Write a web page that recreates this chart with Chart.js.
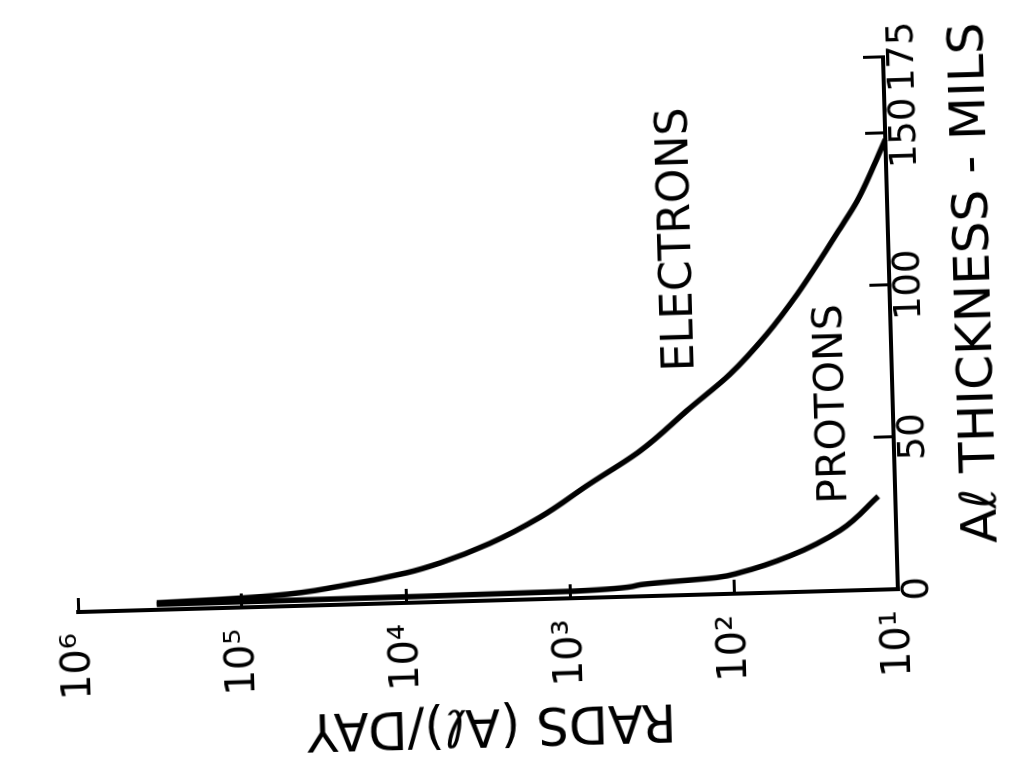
<!DOCTYPE html>
<html>
<head>
<meta charset="utf-8">
<script src="https://cdn.jsdelivr.net/npm/chart.js@4.4.1/dist/chart.umd.min.js"></script>
<style>
  html, body { margin: 0; padding: 0; background: #fff; overflow: hidden; width: 1012px; height: 768px; }
  /* the figure is printed turned on its side, so the whole chart is turned */
  #page { position: absolute; left: 122px; top: -122px; width: 768px; height: 1012px; transform: rotate(-91.6deg); }
</style>
</head>
<body>
<div id="page"><canvas id="chart_canvas" width="768" height="1012"></canvas></div>
<script>
const thicknessTicks = [0, 50, 100, 150, 175];
const radsTicks = [10, 100, 1000, 10000, 100000, 1000000];
const radsTickLabels = ["10¹", "10²", "10³", "10⁴", "10⁵", "10⁶"];

// Al thickness (mils) against dose (rads/day)
const electronMils = [2.3, 2.8, 3.6, 6.1, 9.9, 12.8, 18.8, 26.9, 37.5, 47.8, 61.5, 72.2, 85.0, 97.9, 119.2, 128.0, 148.0];
const electronRads = [331000, 145000, 64600, 25200, 9770, 6120, 3010, 1480, 723, 353, 172, 97, 57, 36.6, 19.5, 15.2, 10];

const protonMils = [1.8, 1.9, 2.0, 2.3, 3.8, 5.5, 6.9, 11.9, 19.9, 30.7];
const protonRads = [331000, 64700, 7450, 953, 372, 126, 91, 45, 21.9, 12.7];

const curveNames = ["ELECTRONS", "PROTONS"];
const curveNameMils = [117, 61.5];
const curveNameRads = [190, 23];
const curveNameSizes = [44, 41];

const thicknessTitle = "Aℓ THICKNESS - MILS";
const thicknessTitleMils = 100;

Chart.defaults.font.family = '"DejaVu Sans"';
Chart.defaults.color = "#000";

function toPoints(xs, ys)
{
  return xs.map((x, i) => ({x: x, y: ys[i]}));
}

// curve names and the thickness title, placed through the scales
const chartText = {
  id: "chartText",
  afterDatasetsDraw(chart)
  {
    const ctx = chart.ctx;
    const xs = chart.scales.x, ys = chart.scales.y;
    ctx.save();
    ctx.fillStyle = "#000";
    ctx.textAlign = "center";
    ctx.textBaseline = "middle";
    curveNames.forEach((name, i) => {
      ctx.font = curveNameSizes[i] + 'px "DejaVu Sans"';
      ctx.fillText(name, xs.getPixelForValue(curveNameMils[i]), ys.getPixelForValue(curveNameRads[i]));
    });
    ctx.font = '50px "DejaVu Sans"';
    ctx.fillText(thicknessTitle, xs.getPixelForValue(thicknessTitleMils), xs.bottom - 33);
    ctx.restore();
  }
};

const lineStyle = {borderColor: "#000", borderWidth: 5.5, pointRadius: 0, cubicInterpolationMode: "monotone", fill: false, clip: 8};

const config =
{
  type: "line",
  data: {
    datasets: [
      Object.assign({label: "Electrons", data: toPoints(electronMils, electronRads)}, lineStyle),
      Object.assign({label: "Protons", data: toPoints(protonMils, protonRads)}, lineStyle)
    ]
  },
  options: {
    responsive: false,
    animation: false,
    devicePixelRatio: 1,
    events: [],
    layout: {padding: {left: 0, top: 72, right: 68, bottom: 0}},
    plugins: {legend: {display: false}, tooltip: {enabled: false}},
    scales: {
      x: {
        type: "linear", min: 0, max: 175,
        afterBuildTicks: s => { s.ticks = thicknessTicks.map(v => ({value: v})); },
        afterFit: s => { s.height = 120; },
        grid: {drawOnChartArea: false, color: "#000", lineWidth: 3, tickLength: -20},
        border: {color: "#000", width: 4},
        ticks: {font: {size: 37}, padding: 18, maxRotation: 0, autoSkip: false}
      },
      y: {
        type: "logarithmic", min: 10, max: 1000000,
        afterBuildTicks: s => { s.ticks = radsTicks.map(v => ({value: v})); },
        afterFit: s => { s.width = 168; },
        grid: {drawOnChartArea: false, color: "#000", lineWidth: 3, tickLength: -14},
        border: {color: "#000", width: 4},
        ticks: {font: {size: 40}, padding: 35, autoSkip: false, callback: (v, i) => radsTickLabels[i]},
        title: {display: true, text: "RADS (Aℓ)/DAY", font: {size: 51}, padding: {top: 15, bottom: 0}}
      }
    }
  },
  plugins: [chartText]
};

const chart = new Chart(document.getElementById("chart_canvas"), config);
</script>
</body>
</html>
